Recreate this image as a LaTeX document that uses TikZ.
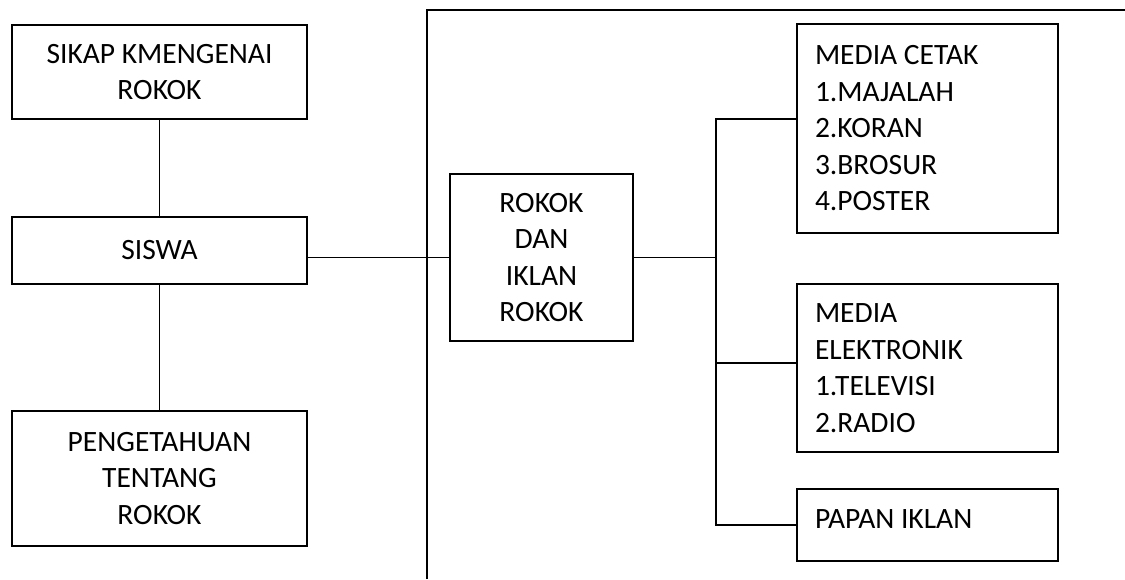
\documentclass[tikz,border=0pt]{standalone}
\usepackage{fontspec}
\setmainfont{Carlito}
\usetikzlibrary{calc}

\tikzset{
    box/.style={rectangle,draw,line width=1.8pt,inner sep=0pt,align=center,font=\fontsize{29.5pt}{36.5pt}\selectfont},
    listbox/.style={box,align=flush left,text width=225pt,inner xsep=18pt,minimum height=#1},
    link/.style={line width=1.8pt},
}

\begin{document}
\begin{tikzpicture}[x=1pt,y=-1pt]
        \useasboundingbox (0,0) rectangle (1125,579);
        \begin{scope}

            % Left column
            \node[box,minimum width=295pt,minimum height=94pt] (sikap) at (159.5,72) {SIKAP KMENGENAI\\ROKOK};
            \node[box,minimum width=295pt,minimum height=67pt] (siswa) at (159.5,250.5) {SISWA};
            \node[box,minimum width=295pt,minimum height=135pt] (tahu) at (159.5,478.5) {PENGETAHUAN\\TENTANG\\ROKOK};

            \draw[link] (sikap) -- (siswa);
            \draw[link] (siswa) -- (tahu);

            % Frame
            \coordinate (ftop) at (427,10);
            \coordinate (fbot) at (427,579);
            \coordinate (fright) at (1125,10);
            \draw[link] (fbot) -- (ftop) -- (fright);

            % Middle
            \node[box,minimum width=183pt,minimum height=167pt] (iklan) at (541.5,257.5) {ROKOK\\DAN\\IKLAN\\ROKOK};

            \draw[link] (siswa.east |- iklan.west) -- (iklan.west);

            % Right column
            \node[listbox=209pt] (cetak) at (927.5,128.5) {MEDIA CETAK\\1.MAJALAH\\2.KORAN\\3.BROSUR\\4.POSTER};
            \node[listbox=168pt] (elektro) at (927.5,368) {MEDIA\\ELEKTRONIK\\1.TELEVISI\\2.RADIO};
            \node[listbox=72pt,text depth=12pt] (papan) at (927.5,525) {PAPAN IKLAN};

            % Bracket
            \coordinate (bus) at (716,257.5);
            \draw[link] (iklan.east) -- (bus);
            \draw[link] ([yshift=9.5pt]cetak.west) -- ([yshift=9.5pt]cetak.west -| bus) -- (papan.west -| bus) -- (papan.west);
            \draw[link] ([yshift=5pt]elektro.west) -- ([yshift=5pt]elektro.west -| bus);

        \end{scope}
    \end{tikzpicture}
\end{document}
